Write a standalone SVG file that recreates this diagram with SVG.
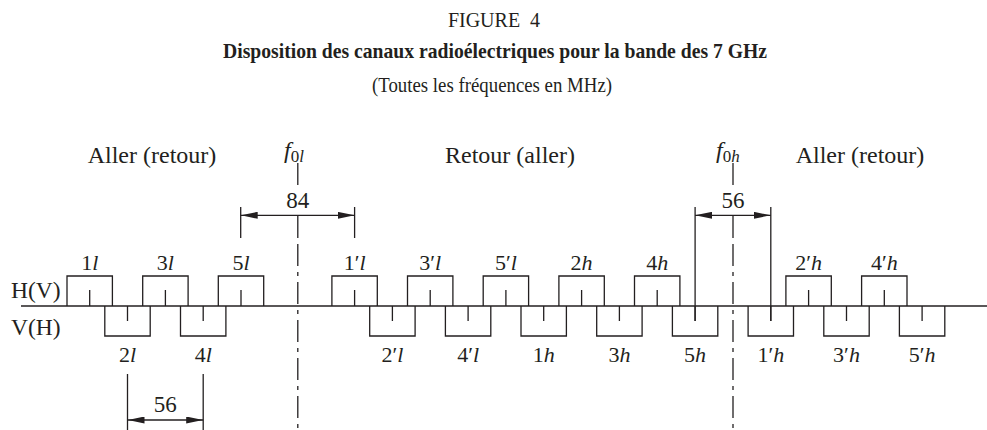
<svg xmlns="http://www.w3.org/2000/svg" width="987" height="430" viewBox="0 0 987 430">
<style>
text{font-family:"Liberation Serif","Times New Roman",serif;fill:#231f20}
.hdr{font-size:20px;text-anchor:middle}
.ttl{font-size:21.5px;font-weight:bold;text-anchor:middle}
.sub{font-size:20.5px;text-anchor:middle}
.reg{font-size:24px;text-anchor:middle}
.lab{font-size:22px;text-anchor:middle}
.pol{font-size:23.5px}
.dim{font-size:23px;text-anchor:middle}
.it{font-style:italic}
.ln{stroke:#231f20;stroke-width:1.3;fill:none}
.cl{stroke:#231f20;stroke-width:1.3;fill:none;stroke-dasharray:22 6 4 6}
</style>
<defs>
<marker id="ah" viewBox="0 0 17 7" refX="17" refY="3.5" markerWidth="17" markerHeight="7" markerUnits="userSpaceOnUse" orient="auto-start-reverse"><path d="M0,0 L17,3.5 L0,7 z" fill="#231f20"/></marker>
</defs>
<g id="titles">
<text class="hdr" x="494" y="27">FIGURE&#160;&#160;4</text>
<text class="ttl" x="495" y="58" textLength="544" lengthAdjust="spacingAndGlyphs">Disposition des canaux radioélectriques pour la bande des 7 GHz</text>
<text class="sub" x="492" y="92" textLength="240" lengthAdjust="spacingAndGlyphs">(Toutes les fréquences en MHz)</text>
</g>
<g id="regions">
<text class="reg" x="152" y="163">Aller (retour)</text>
<text class="reg" x="510" y="163">Retour (aller)</text>
<text class="reg" x="860" y="163">Aller (retour)</text>
</g>
<g id="polar">
<text class="pol" x="11" y="298">H(V)</text>
<text class="pol" x="11" y="335">V(H)</text>
</g>
<g id="connectors">
<line class="ln" x1="21" y1="306" x2="987" y2="306"/>
<line class="ln" x1="297.8" y1="163" x2="297.8" y2="185"/>
<line class="ln" x1="297.8" y1="215" x2="297.8" y2="238"/>
<line class="cl" x1="297.8" y1="244" x2="297.8" y2="430"/>
<line class="ln" x1="240.7" y1="207" x2="240.7" y2="238"/>
<line class="ln" x1="354.6" y1="207" x2="354.6" y2="238"/>
<line class="ln" x1="240.7" y1="215.3" x2="354.6" y2="215.3" marker-start="url(#ah)" marker-end="url(#ah)"/>
<line class="ln" x1="733" y1="163" x2="733" y2="185"/>
<line class="ln" x1="733" y1="215" x2="733" y2="238"/>
<line class="cl" x1="733" y1="244" x2="733" y2="430"/>
<line class="ln" x1="695.1" y1="207" x2="695.1" y2="321"/>
<line class="ln" x1="770.8" y1="207" x2="770.8" y2="321"/>
<line class="ln" x1="695.1" y1="215.3" x2="770.8" y2="215.3" marker-start="url(#ah)" marker-end="url(#ah)"/>
<line class="ln" x1="127.5" y1="374" x2="127.5" y2="430"/>
<line class="ln" x1="203.2" y1="374" x2="203.2" y2="430"/>
<line class="ln" x1="127.5" y1="420" x2="203.2" y2="420" marker-start="url(#ah)" marker-end="url(#ah)"/>
</g>
<g id="dims">
<text x="284" y="158" style="font-size:24px"><tspan class="it">f</tspan><tspan style="font-size:17px" dy="4">0<tspan class="it">l</tspan></tspan></text>
<text x="716" y="158" style="font-size:24px"><tspan class="it">f</tspan><tspan style="font-size:17px" dy="4">0<tspan class="it">h</tspan></tspan></text>
<text class="dim" x="297.8" y="208">84</text>
<text class="dim" x="733" y="208">56</text>
<text class="dim" x="165.3" y="412">56</text>
</g>
<g id="ch-1l"><path class="ln" d="M67,306V276H112.4V306M89.7,306V290"/><text class="lab" x="89.7" y="270">1<tspan class="it">l</tspan></text></g>
<g id="ch-2l"><path class="ln" d="M104.8,306V336H150.2V306M127.5,306V321"/><text class="lab" x="127.5" y="362">2<tspan class="it">l</tspan></text></g>
<g id="ch-3l"><path class="ln" d="M142.7,306V276H188.1V306M165.4,306V290"/><text class="lab" x="165.4" y="270">3<tspan class="it">l</tspan></text></g>
<g id="ch-4l"><path class="ln" d="M180.5,306V336H225.9V306M203.2,306V321"/><text class="lab" x="203.2" y="362">4<tspan class="it">l</tspan></text></g>
<g id="ch-5l"><path class="ln" d="M218.3,306V276H263.7V306M241,306V290"/><text class="lab" x="241" y="270">5<tspan class="it">l</tspan></text></g>
<g id="ch-1pl"><path class="ln" d="M331.9,306V276H377.3V306M354.6,306V290"/><text class="lab" x="354.6" y="270">1′<tspan class="it">l</tspan></text></g>
<g id="ch-2pl"><path class="ln" d="M369.7,306V336H415.1V306M392.4,306V321"/><text class="lab" x="392.4" y="362">2′<tspan class="it">l</tspan></text></g>
<g id="ch-3pl"><path class="ln" d="M407.5,306V276H452.9V306M430.2,306V290"/><text class="lab" x="430.2" y="270">3′<tspan class="it">l</tspan></text></g>
<g id="ch-4pl"><path class="ln" d="M445.4,306V336H490.8V306M468.1,306V321"/><text class="lab" x="468.1" y="362">4′<tspan class="it">l</tspan></text></g>
<g id="ch-5pl"><path class="ln" d="M483.2,306V276H528.6V306M505.9,306V290"/><text class="lab" x="505.9" y="270">5′<tspan class="it">l</tspan></text></g>
<g id="ch-1h"><path class="ln" d="M521,306V336H566.4V306M543.7,306V321"/><text class="lab" x="543.7" y="362">1<tspan class="it">h</tspan></text></g>
<g id="ch-2h"><path class="ln" d="M558.9,306V276H604.3V306M581.6,306V290"/><text class="lab" x="581.6" y="270">2<tspan class="it">h</tspan></text></g>
<g id="ch-3h"><path class="ln" d="M596.7,306V336H642.1V306M619.4,306V321"/><text class="lab" x="619.4" y="362">3<tspan class="it">h</tspan></text></g>
<g id="ch-4h"><path class="ln" d="M634.5,306V276H679.9V306M657.2,306V290"/><text class="lab" x="657.2" y="270">4<tspan class="it">h</tspan></text></g>
<g id="ch-5h"><path class="ln" d="M672.4,306V336H717.8V306M695.1,306V321"/><text class="lab" x="695.1" y="362">5<tspan class="it">h</tspan></text></g>
<g id="ch-1ph"><path class="ln" d="M748.1,306V336H793.5V306M770.8,306V321"/><text class="lab" x="770.8" y="362">1′<tspan class="it">h</tspan></text></g>
<g id="ch-2ph"><path class="ln" d="M785.9,306V276H831.3V306M808.6,306V290"/><text class="lab" x="808.6" y="270">2′<tspan class="it">h</tspan></text></g>
<g id="ch-3ph"><path class="ln" d="M823.8,306V336H869.2V306M846.5,306V321"/><text class="lab" x="846.5" y="362">3′<tspan class="it">h</tspan></text></g>
<g id="ch-4ph"><path class="ln" d="M861.6,306V276H907V306M884.3,306V290"/><text class="lab" x="884.3" y="270">4′<tspan class="it">h</tspan></text></g>
<g id="ch-5ph"><path class="ln" d="M899.4,306V336H944.8V306M922.1,306V321"/><text class="lab" x="922.1" y="362">5′<tspan class="it">h</tspan></text></g>
</svg>
